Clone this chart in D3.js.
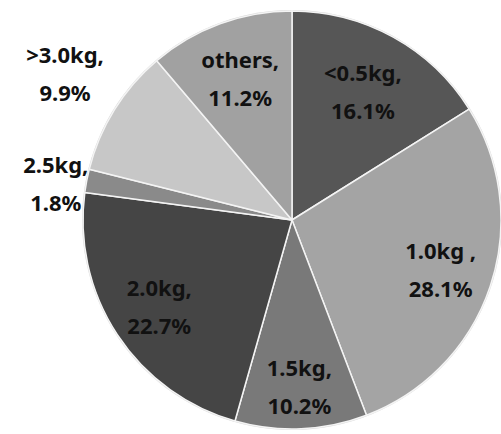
<!DOCTYPE html>
<html>
<head>
<meta charset="utf-8">
<script src="https://cdn.jsdelivr.net/npm/d3@7"></script>
<style>
  html, body { margin: 0; padding: 0; background: #fff; }
  svg { display: block; }
  text { font-family: "Noto Sans", "Noto Sans CJK KR", sans-serif; font-weight: bold; fill: #111; }
</style>
</head>
<body>
<div id="root"></div>
<script>
const width = 501;
const height = 434;

// data, clockwise from 12 o'clock
const categories = ["<0.5kg,", "1.0kg ,", "1.5kg,", "2.0kg,", "2.5kg,", ">3.0kg,", "others,"];
const shares = [16.1, 28.1, 10.2, 22.7, 1.8, 9.9, 11.2];
const shareLabels = ["16.1%", "28.1%", "10.2%", "22.7%", "1.8%", "9.9%", "11.2%"];
const colors = ["#565656", "#a4a4a4", "#797979", "#454545", "#8a8a8a", "#c7c7c7", "#a1a1a1"];

const cx = 292;
const cy = 220;
const r = 209;

// label layout: distance out (fraction of radius) and a small nudge
const labelFactor = [0.7, 0.75, 0.8, 0.76, 1.17, 1.29, 0.72];
const labelNudge = [[0, 0], [0, 0], [0, 0], [0, 0], [4, 10], [2, -4], [0, 0]];

const svg = d3
  .select("#root")
  .append("svg")
  .attr("width", width)
  .attr("height", height);

const g = svg.append("g").attr("transform", `translate(${cx},${cy})`);

const pie = d3.pie().sort(null).value((d) => d.value);
const arcs = pie(
  categories.map((c, i) => ({
    name: c,
    value: shares[i],
    pct: shareLabels[i],
    color: colors[i],
    f: labelFactor[i],
    n: labelNudge[i],
  }))
);

const arc = d3.arc().innerRadius(0).outerRadius(r);

g.append("circle").attr("r", r + 1).attr("fill", "#d8d8d8");

g.selectAll(".slice")
  .data(arcs)
  .enter()
  .append("path")
  .attr("class", "slice")
  .attr("d", arc)
  .attr("fill", (d) => d.data.color)
  .attr("stroke", "#f4f4f4")
  .attr("stroke-width", 1.5)
  .attr("stroke-linejoin", "round");

const label = g
  .selectAll(".label")
  .data(arcs)
  .enter()
  .append("text")
  .attr("class", "label")
  .attr("font-size", 22)
  .attr("text-anchor", "middle")
  .attr("transform", (d) => {
    const a = (d.startAngle + d.endAngle) / 2;
    const rr = r * d.data.f;
    return `translate(${Math.sin(a) * rr + d.data.n[0]}, ${-Math.cos(a) * rr + d.data.n[1]})`;
  });

label
  .append("tspan")
  .attr("x", 0)
  .attr("y", -11)
  .text((d) => d.data.name);

label
  .append("tspan")
  .attr("x", 0)
  .attr("y", 27)
  .text((d) => d.data.pct);
</script>
</body>
</html>
